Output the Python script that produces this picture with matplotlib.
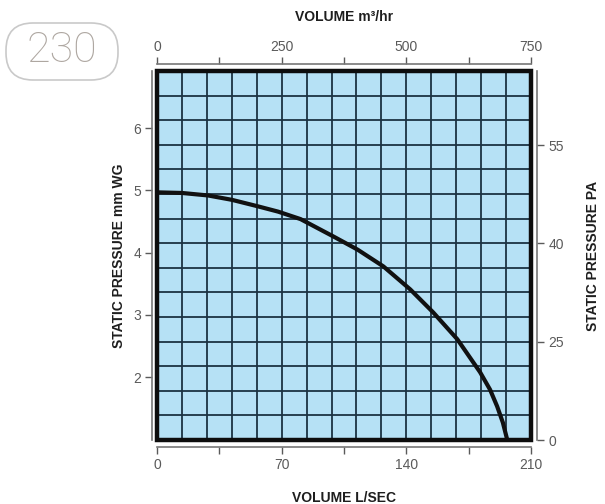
import numpy as np
import matplotlib
matplotlib.use("Agg")
import matplotlib.pyplot as plt
from matplotlib.patches import Rectangle, FancyBboxPatch

# curva del ventilatore
volume_ls = [0, 14, 28.6, 42, 56, 68, 80.6, 99.1, 112.6, 127.1, 142.2, 155.1,
             168.6, 181.4, 187, 191.0, 194.2, 196.6]
pressione_mm = [4.97, 4.96, 4.92, 4.85, 4.75, 4.66, 4.54, 4.26, 4.05, 3.78, 3.41, 3.04,
                2.61, 2.08, 1.80, 1.53, 1.27, 1.0]

tick_ls = [0, 35, 70, 105, 140, 175, 210]
etichette_ls = ["0", "", "70", "", "140", "", "210"]
tick_m3h = [0, 125, 250, 375, 500, 625, 750]
etichette_m3h = ["0", "", "250", "", "500", "", "750"]
tick_mm = [2, 3, 4, 5, 6]
etichette_pa = ["0", "25", "40", "55"]

colTick = "#5a5a5a"
colGriglia = "#1b3242"
colSfondo = "#b6e1f5"
colTitolo = "#1e1e1e"

plt.rcParams['font.family'] = ['Liberation Sans', 'DejaVu Sans']

fig = plt.figure(figsize=(6.05, 5.04), dpi=100)
ax = fig.add_axes([157 / 605, 1 - 440 / 504, 374 / 605, 369 / 504])
ax.set_facecolor(colSfondo)
ax.set_xlim(0, 210)
ax.set_ylim(0.99, 6.92)

# griglia 15 x 15
for xg in np.linspace(0, 210, 16):
    ax.axvline(xg, color=colGriglia, lw=1.3, zorder=1)
for yg in np.linspace(0.99, 6.92, 16):
    ax.axhline(yg, color=colGriglia, lw=1.3, zorder=1)

ax.plot(volume_ls, pressione_mm, color="#111111", lw=3.0, zorder=3,
        solid_capstyle='butt', solid_joinstyle='round')

# cornice nera spessa
ax.add_patch(Rectangle((0, 0), 1, 1, transform=ax.transAxes, fill=False,
                       edgecolor="#0d0d0d", lw=3.2, zorder=5, clip_on=False))

ax.set_xticks(tick_ls)
ax.set_xticklabels(etichette_ls)
ax.set_yticks(tick_mm)
ax.spines['top'].set_visible(False)
ax.spines['right'].set_visible(False)
ax.spines['left'].set_position(('outward', 3.5))
ax.spines['bottom'].set_position(('outward', 5))
for s in ['left', 'bottom']:
    ax.spines[s].set_color("#777777")
    ax.spines[s].set_linewidth(1.2)
ax.tick_params(colors=colTick, labelsize=10, length=5, width=1, pad=3)

ax.set_xlabel("VOLUME L/SEC", fontsize=10, fontweight='bold', color=colTitolo, labelpad=14)
ax.set_ylabel("STATIC PRESSURE mm WG", fontsize=10, fontweight='bold', color=colTitolo, labelpad=5)

# asse superiore m3/hr
axTop = ax.twiny()
axTop.set_xlim(0, 750)
axTop.set_xticks(tick_m3h)
axTop.set_xticklabels(etichette_m3h)
for s in ['bottom', 'left', 'right']:
    axTop.spines[s].set_visible(False)
axTop.spines['top'].set_position(('outward', 5))
axTop.spines['top'].set_color("#777777")
axTop.spines['top'].set_linewidth(1.2)
axTop.tick_params(colors=colTick, labelsize=10, length=5, width=1, pad=2)
axTop.set_xlabel("VOLUME m\u00b3/hr", fontsize=10, fontweight='bold', color=colTitolo, labelpad=14)

# asse destro PA
axDx = ax.twinx()
axDx.set_ylim(0, 369 / 98.3)
axDx.set_yticks(range(len(etichette_pa)))
axDx.set_yticklabels(etichette_pa)
for s in ['bottom', 'left', 'top']:
    axDx.spines[s].set_visible(False)
axDx.spines['right'].set_position(('outward', 4.5))
axDx.spines['right'].set_color("#777777")
axDx.spines['right'].set_linewidth(1.2)
axDx.tick_params(colors=colTick, labelsize=10, length=5, width=1, pad=3)
axDx.set_ylabel("STATIC PRESSURE PA", fontsize=10, fontweight='bold', color=colTitolo, labelpad=16)

# riquadro con numero di pagina
fig.add_artist(FancyBboxPatch((0.06, 4.24), 1.12, 0.57,
                              boxstyle="round,pad=0,rounding_size=0.27",
                              transform=fig.dpi_scale_trans, facecolor="white",
                              edgecolor="#c9c9c9", lw=1.2))
fig.text(62 / 605, 1 - 51 / 504, "230", fontsize=31, fontweight='light',
         family=['Roboto', 'DejaVu Sans'], color="#aea7a1", ha='center', va='center')

fig.savefig("out.png", dpi=100)
